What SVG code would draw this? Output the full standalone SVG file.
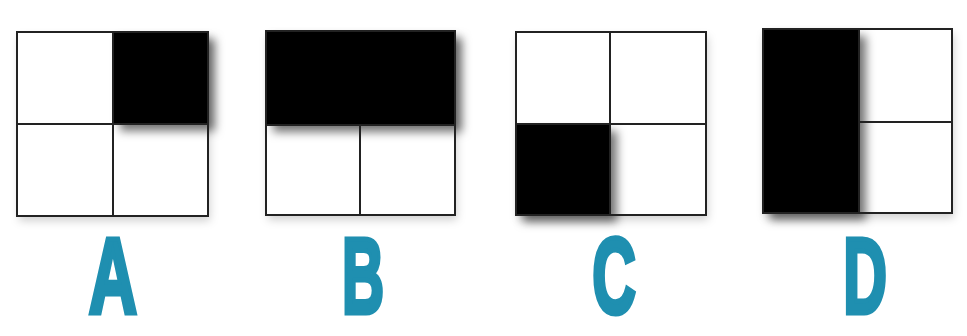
<svg xmlns="http://www.w3.org/2000/svg" width="967" height="336" viewBox="0 0 967 336">
<defs>
<filter id="sh" x="-20%" y="-20%" width="150%" height="150%">
<feDropShadow dx="7" dy="7" stdDeviation="5" flood-color="#000" flood-opacity="0.55"/>
</filter>
<filter id="gsh" x="-10%" y="-10%" width="130%" height="130%">
<feDropShadow dx="2" dy="5" stdDeviation="4" flood-color="#000" flood-opacity="0.18"/>
</filter>
</defs>
<style>
.bg{fill:#fff;filter:url(#gsh)}
.blk{fill:#000;filter:url(#sh)}
.ln{fill:none;stroke:#222;stroke-width:2}
.lbl{font-family:"Liberation Sans",Arial,sans-serif;font-weight:bold;font-size:108px;fill:#1f8fb0;stroke:#1f8fb0;stroke-width:5;stroke-linejoin:miter;text-anchor:middle}
</style>
<rect width="967" height="336" fill="#fff"/>
<g id="gridA">
<rect class="bg" x="17" y="32" width="191" height="184"/>
<rect class="blk" x="113" y="32" width="95" height="92"/>
<rect class="ln" x="17" y="32" width="191" height="184"/>
<path class="ln" d="M113 32V216M17 124H208"/>
</g>
<g id="gridB">
<rect class="bg" x="266" y="31" width="189" height="184"/>
<rect class="blk" x="266" y="31" width="189" height="94"/>
<rect class="ln" x="266" y="31" width="189" height="184"/>
<path class="ln" d="M360 125V215M266 125H455"/>
</g>
<g id="gridC">
<rect class="bg" x="516" y="32" width="190" height="183"/>
<rect class="blk" x="516" y="124" width="94" height="91"/>
<rect class="ln" x="516" y="32" width="190" height="183"/>
<path class="ln" d="M610 32V215M516 124H706"/>
</g>
<g id="gridD">
<rect class="bg" x="763" y="29" width="189" height="184"/>
<rect class="blk" x="763" y="29" width="96" height="184"/>
<rect class="ln" x="763" y="29" width="189" height="184"/>
<path class="ln" d="M859 29V213M859 122H952"/>
</g>
<g id="labels">
<text class="lbl" transform="translate(113,313) scale(0.62,1)">A</text>
<text class="lbl" transform="translate(363,313) scale(0.54,1)">B</text>
<text class="lbl" transform="translate(614,313) scale(0.56,1)">C</text>
<text class="lbl" transform="translate(865,313) scale(0.56,1)">D</text>
</g>
</svg>
